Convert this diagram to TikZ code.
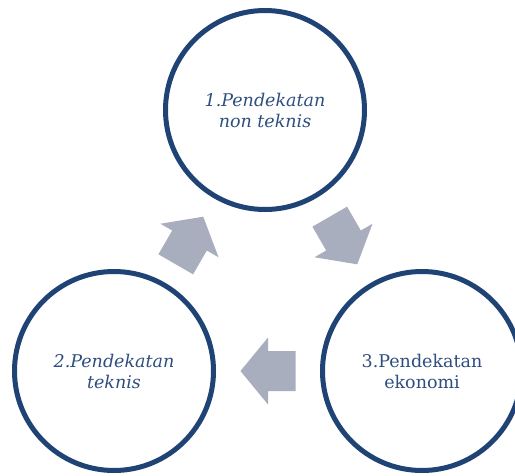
\documentclass[tikz,border=0pt]{standalone}
\usepackage{fontspec}
\setmainfont{DejaVu Serif}
\usetikzlibrary{calc}
\definecolor{ringblue}{HTML}{1F4374}
\definecolor{textblue}{HTML}{2E4E7E}
\definecolor{arrowfill}{HTML}{A9AEBE}
\tikzset{
  ring/.style={circle, draw=ringblue, line width=5pt, minimum size=199pt, inner sep=0pt,
    text=textblue, align=center, font=\fontsize{17.5}{21}\selectfont},
  blockarrow/.pic={\fill[arrowfill] (-27.5,-20) -- (0,-20) -- (0,-33.5) -- (27.5,0)
    -- (0,33.5) -- (0,20) -- (-27.5,20) -- cycle;}
}
\begin{document}
\begin{tikzpicture}[x=1pt,y=-1pt]
\clip (0,0) rectangle (515,475);
\fill[white] (0,0) rectangle (515,475);
\node[ring] (c1) at (265,110) {\itshape 1.Pendekatan\\\itshape non teknis};
\node[ring] (c2) at (114,371) {\itshape 2.Pendekatan\\\itshape teknis};
\node[ring] (c3) at (422,371) {3.Pendekatan\\ekonomi};
\pic[rotate=60] at ($(c2.center)!0.5!(c1.center)$) {blockarrow};
\pic[rotate=-60] at ($(c1.center)!0.5!(c3.center)$) {blockarrow};
\pic[rotate=180] at ($(c3.center)!0.5!(c2.center)$) {blockarrow};
\end{tikzpicture}
\end{document}
